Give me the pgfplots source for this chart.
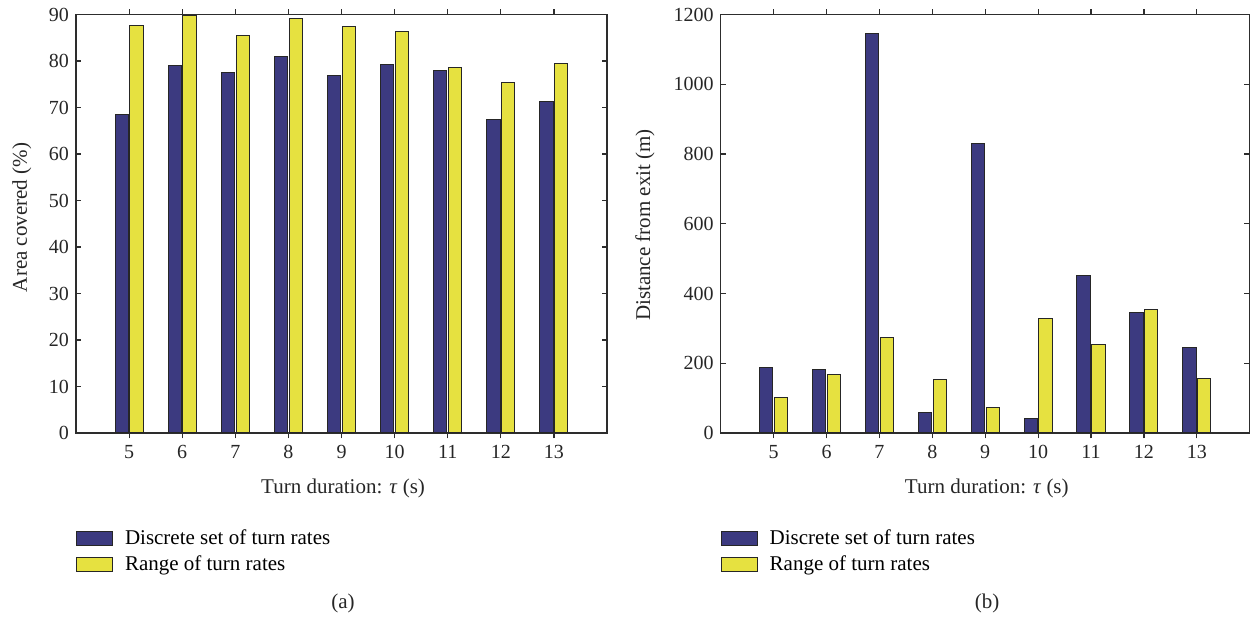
\documentclass[border=0pt]{standalone}
\usepackage{fontspec}
\setmainfont{Liberation Serif}
\usepackage{pgfplots}
\pgfplotsset{compat=1.18}

\definecolor{barblue}{RGB}{60,58,128}
\definecolor{baryellow}{RGB}{230,225,64}
\definecolor{axisgray}{RGB}{45,45,45}

\pgfplotsset{
  panel/.style={
    scale only axis, height=209.2pt,
    xmin=4, xmax=14, ymin=0,
    xtick={5,...,13},
    tick align=inside, tick pos=both,
    major tick length=2.7pt,
    axis line style={axisgray, line width=0.6pt},
    every tick/.style={axisgray, line width=0.6pt},
    tick label style={font=\fontsize{10}{12}\selectfont, text=black!85},
    label style={font=\fontsize{10.5}{12}\selectfont, text=black!85},
    /pgf/number format/assume math mode=true,
    /pgf/number format/1000 sep={},
    xlabel={Turn duration: \textit{τ} (s)},
    xlabel style={at={(axis description cs:0.503,-0.1316)}, anchor=center},
    ybar, bar width=0.25,
    legend cell align=left,
    legend style={at={(axis description cs:0,-0.221)}, anchor=north west,
      draw=none, fill=none, inner sep=0pt, row sep=0pt,
      font=\fontsize{10.5}{12}\selectfont},
  },
  sw/.style={legend image code/.code={%
    \draw[##1] (0pt,-3.5pt) rectangle (17.8pt,3.5pt);
    \path (0pt,0pt) (21.8pt,0pt);}},
  blue bars/.style={fill=barblue, draw=black!85, line width=0.5pt, bar shift=-0.14, sw},
  yellow bars/.style={fill=baryellow, draw=black!85, line width=0.5pt, bar shift=0.14, sw},
}

\begin{document}
\begin{tikzpicture}
\useasboundingbox (0,0) rectangle (625.5pt,310pt);

% (a) area covered
\begin{axis}[panel, at={(38pt,93.5pt)}, anchor=south west, width=265.5pt,
  ymax=90, ytick={0,10,...,90},
  ylabel={Area covered (\%)},
  ylabel style={at={(axis description cs:-0.102,0.515)}, anchor=center}]
\addplot[blue bars] coordinates {(5,68.5) (6,79.0) (7,77.5) (8,81.0) (9,76.8) (10,79.3) (11,77.9) (12,67.4) (13,71.3)};
\addplot[yellow bars] coordinates {(5,87.7) (6,89.7) (7,85.6) (8,89.1) (9,87.4) (10,86.4) (11,78.6) (12,75.3) (13,79.5)};
\legend{Discrete set of turn rates, Range of turn rates}
\end{axis}

% (b) distance from exit
\begin{axis}[panel, at={(360.35pt,93.5pt)}, anchor=south west, width=264.5pt,
  ymax=1200, ytick={0,200,...,1200},
  ylabel={Distance from exit (m)},
  ylabel style={at={(axis description cs:-0.143,0.497)}, anchor=center}]
\addplot[blue bars] coordinates {(5,187) (6,182) (7,1145) (8,60) (9,829) (10,41) (11,452) (12,345) (13,246)};
\addplot[yellow bars] coordinates {(5,103) (6,167) (7,273) (8,154) (9,73) (10,328) (11,254) (12,355) (13,155)};
\legend{Discrete set of turn rates, Range of turn rates}
\end{axis}

\node[font=\fontsize{10.5}{12}\selectfont, text=black!85] at (171.5pt,8.5pt) {(a)};
\node[font=\fontsize{10.5}{12}\selectfont, text=black!85] at (493.5pt,8.5pt) {(b)};
\end{tikzpicture}
\end{document}
